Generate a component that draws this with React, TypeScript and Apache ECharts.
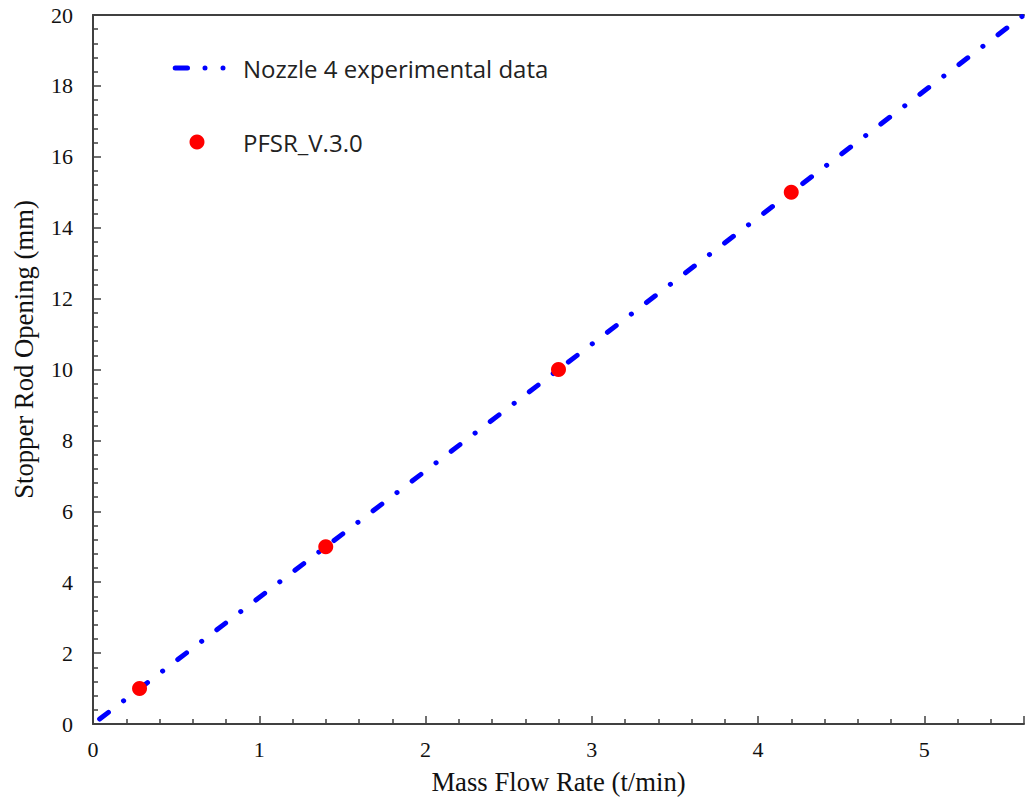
import React, { useEffect, useRef } from "react";
import * as echarts from "echarts";

const lineName = "Nozzle 4 experimental data";
const pointName = "PFSR_V.3.0";
// experimental fit line endpoints (mass flow rate t/min, opening mm)
const lineX = [0.04, 5.6];
const lineY = [0.14, 20];
// PFSR_V.3.0 simulated points
const pointX = [0.28, 1.4, 2.8, 4.2];
const pointY = [1, 5, 10, 15];
const xTicks = [0, 1, 2, 3, 4, 5];
const yTicks = [0, 2, 4, 6, 8, 10, 12, 14, 16, 18, 20];

// legend icon: one dash and two dots
const dashDotIcon =
  "path://M2.5,0 L14.8,0 A2.5,2.5 0 0 1 14.8,5 L2.5,5 A2.5,2.5 0 0 1 2.5,0 Z " +
  "M29.8,2.5 A2.5,2.5 0 1 1 34.8,2.5 A2.5,2.5 0 1 1 29.8,2.5 Z " +
  "M47.8,2.5 A2.5,2.5 0 1 1 52.8,2.5 A2.5,2.5 0 1 1 47.8,2.5 Z";

export default function App() {
  const ref = useRef<HTMLDivElement>(null);
  useEffect(() => {
    if (!ref.current) return;
    const chart = echarts.init(ref.current, null, { renderer: "svg" });
    const serif = "Liberation Serif";
    const axisCommon = {
      axisLine: { show: true, lineStyle: { color: "#404040", width: 2 } },
      axisTick: { show: true, inside: true, length: 8, lineStyle: { color: "#404040", width: 1.5 } },
      minorTick: { show: true, splitNumber: 5, length: 5, lineStyle: { color: "#404040", width: 1.5 } },
      splitLine: { show: false },
    };
    const legendText = { fontFamily: "Open Sans", fontSize: 24, lineHeight: 24, color: "#222" };
    const tickRich = { t: { fontFamily: serif, fontSize: 22, color: "#111" } };
    chart.setOption({
      animation: false,
      backgroundColor: "#fff",
      textStyle: { fontFamily: serif, fontSize: 22, color: "#111" },
      grid: { left: 93, top: 15, right: -6, bottom: 78 },
      legend: [
        {
          orient: "vertical",
          left: 167.7,
          top: 51,
          itemWidth: 52.8,
          itemHeight: 5,
          textStyle: { ...legendText, padding: [0, 0, 0, 12.5] },
          data: [{ name: lineName, icon: dashDotIcon, itemStyle: { color: "#0000ff" } }],
        },
        {
          orient: "vertical",
          left: 184.5,
          top: 125,
          itemWidth: 15,
          itemHeight: 15,
          textStyle: { ...legendText, padding: [0, 0, 0, 33.5] },
          data: [{ name: pointName, icon: "circle" }],
        },
      ],
      xAxis: [
        {
          type: "value",
          min: 0,
          max: 5.6,
          interval: 1,
          name: "Mass Flow Rate (t/min)",
          nameLocation: "middle",
          nameGap: 44,
          nameTextStyle: { color: "#111", fontFamily: serif, fontSize: 26.7 },
          ...axisCommon,
          axisLabel: {
            show: true,
            color: "#111",
            fontFamily: serif,
            fontSize: 22,
            margin: 14,
            rich: tickRich,
            formatter: (v: number) => (xTicks.includes(v) ? "{t|" + v + "}" : ""),
          },
        },
        {
          type: "value",
          position: "top",
          min: 0,
          max: 5.6,
          axisLine: { show: true, lineStyle: { color: "#404040", width: 2 } },
          axisTick: { show: false },
          axisLabel: { show: false },
          splitLine: { show: false },
        },
      ],
      yAxis: {
        type: "value",
        min: 0,
        max: 20,
        interval: 2,
        name: "Stopper Rod Opening (mm)",
        nameLocation: "middle",
        nameGap: 56,
        nameTextStyle: { color: "#111", fontFamily: serif, fontSize: 26.7, padding: [0, 0, 0, 40] },
        ...axisCommon,
        axisLabel: {
          show: true,
          color: "#111",
          fontFamily: serif,
          fontSize: 22,
          margin: 20,
          rich: tickRich,
          formatter: (v: number) => (yTicks.includes(v) ? "{t|" + v + "}" : ""),
        },
      },
      series: [
        {
          name: lineName,
          type: "line",
          data: lineX.map((x, i) => [x, lineY[i]]),
          showSymbol: false,
          symbol: "none",
          color: "#0000ff",
          lineStyle: { color: "#0000ff", width: 5, type: [11, 19, 0.1, 19], cap: "round" },
          z: 2,
        },
        {
          name: pointName,
          type: "scatter",
          data: pointX.map((x, i) => [x, pointY[i]]),
          symbol: "circle",
          symbolSize: 15,
          itemStyle: { color: "#ff0000", opacity: 1 },
          z: 3,
        },
      ],
    });
    return () => chart.dispose();
  }, []);
  return (
    <div
      ref={ref}
      style={{ position: "fixed", left: 0, top: 0, width: 1027, height: 802, background: "#fff" }}
    />
  );
}
